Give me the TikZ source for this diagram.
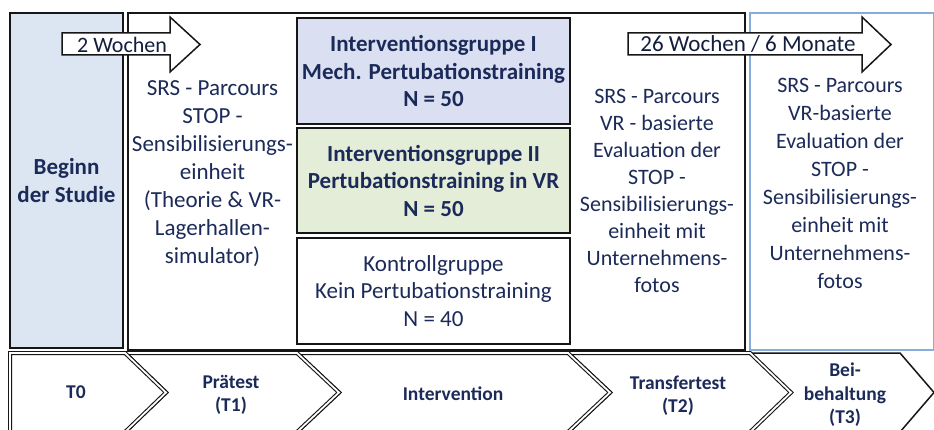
\documentclass[tikz,border=0pt]{standalone}
\usepackage{fontspec}
\setmainfont{Carlito}
\definecolor{ink}{HTML}{1B2A58}
\definecolor{frame}{HTML}{161616}
\definecolor{beginfill}{HTML}{DCE6F2}
\definecolor{grpIfill}{HTML}{DAE0F2}
\definecolor{grpIIfill}{HTML}{E4EDD8}
\definecolor{retline}{HTML}{86AEDB}
\begin{document}
\begin{tikzpicture}[x=1pt,y=-1pt,
  box/.style={draw=frame, line width=1.6pt, inner sep=0pt, text=ink, align=center},
  bigtext/.style={text=ink, align=center, inner sep=0pt, font=\fontsize{23}{28}\selectfont},
  midtext/.style={text=ink, align=center, inner sep=0pt, font=\fontsize{22}{27}\selectfont},
  grouptext/.style={font=\bfseries\fontsize{23}{27.5}\selectfont},
  chev/.style={draw=frame, fill=white, line width=1.1pt, double=white, double distance=1.8pt, line join=miter},
  chevsingle/.style={draw=frame, fill=white, line width=1.5pt, line join=miter},
  chevlabel/.style={text=ink, align=center, inner sep=0pt, font=\bfseries\fontsize{19.5}{23.5}\selectfont},
  blockarrow/.style={draw=frame, fill=white, line width=1.5pt, line join=miter},
  arrowtext/.style={text=ink!70!black, inner sep=0pt},
]
\useasboundingbox (0,0) rectangle (934,430);

% study phases: outer frames
\node[box, fill=beginfill, minimum width=113pt, minimum height=335pt,
      font=\bfseries\fontsize{23}{27.5}\selectfont] (beginn) at (66.5,180.5) {Beginn\\der Studie};
\node[box, minimum width=617pt, minimum height=337pt] (main) at (436.5,181.5) {};
\node[box, draw=retline, minimum width=184pt, minimum height=337pt] (retention) at (842,181.5) {};

% intervention groups
\node[box, fill=grpIfill, minimum width=273pt, minimum height=106pt, grouptext] (grpI) at (433.5,71)
  {Interventionsgruppe I\\Mech. Pertubationstraining\\N = 50};
\node[box, fill=grpIIfill, minimum width=273pt, minimum height=105pt, grouptext] (grpII) at (433.5,180.5)
  {Interventionsgruppe II\\Pertubationstraining in VR\\N = 50};
\node[box, minimum width=273pt, minimum height=106pt, font=\fontsize{23}{27.5}\selectfont] (ctrl) at (433.5,291)
  {Kontrollgruppe\\Kein Pertubationstraining\\N = 40};

% measurement contents
\node[bigtext] (pretest) at (212.5,174)
  {SRS - Parcours\\STOP -\\Sensibilisierungs-\\einheit\\(Theorie \& VR-\\Lagerhallen-\\simulator)};
\node[midtext] (transfer) at (657,191)
  {SRS - Parcours\\VR - basierte\\Evaluation der\\STOP -\\Sensibilisierungs-\\einheit mit\\Unternehmens-\\fotos};
\node[midtext, font=\fontsize{22}{28}\selectfont] (retain) at (840,183.5)
  {SRS - Parcours\\VR-basierte\\Evaluation der\\STOP -\\Sensibilisierungs-\\einheit mit\\Unternehmens-\\fotos};

% time spans
\draw[blockarrow] (62,33) -- (170,33) -- (170,17) -- (200,44.5) -- (170,72) -- (170,55) -- (62,55) -- cycle;
\node[arrowtext, font=\fontsize{22}{26}\selectfont] (span1) at (122,44.5) {2 Wochen};
\draw[blockarrow] (628,33) -- (862,33) -- (862,17) -- (891,44.5) -- (862,72) -- (862,55) -- (628,55) -- cycle;
\node[arrowtext, font=\fontsize{23}{27}\selectfont] (span2) at (748,44.5) {26 Wochen / 6 Monate};

% timeline chevrons
\draw[chevsingle] (750,353) -- (900,353) -- (934,392.5) -- (900,432) -- (750,432) -- (791,392.5) -- cycle;
\draw[chev] (568,353) -- (750,353) -- (791,392.5) -- (750,432) -- (568,432) -- (610,392.5) -- cycle;
\draw[chev] (297,353) -- (568,353) -- (610,392.5) -- (568,432) -- (297,432) -- (339,392.5) -- cycle;
\draw[chev] (125,353) -- (297,353) -- (339,392.5) -- (297,432) -- (125,432) -- (166,392.5) -- cycle;
\draw[chev] (10,353) -- (125,353) -- (166,392.5) -- (125,432) -- (10,432) -- cycle;

\node[chevlabel] (t0) at (76,392) {T0};
\node[chevlabel] (t1) at (231,395) {Prätest\\(T1)};
\node[chevlabel] (iv) at (453,394) {Intervention};
\node[chevlabel] (t2) at (678,395.5) {Transfertest\\(T2)};
\node[chevlabel] (t3) at (845,395) {Bei-\\behaltung\\(T3)};
\end{tikzpicture}
\end{document}
